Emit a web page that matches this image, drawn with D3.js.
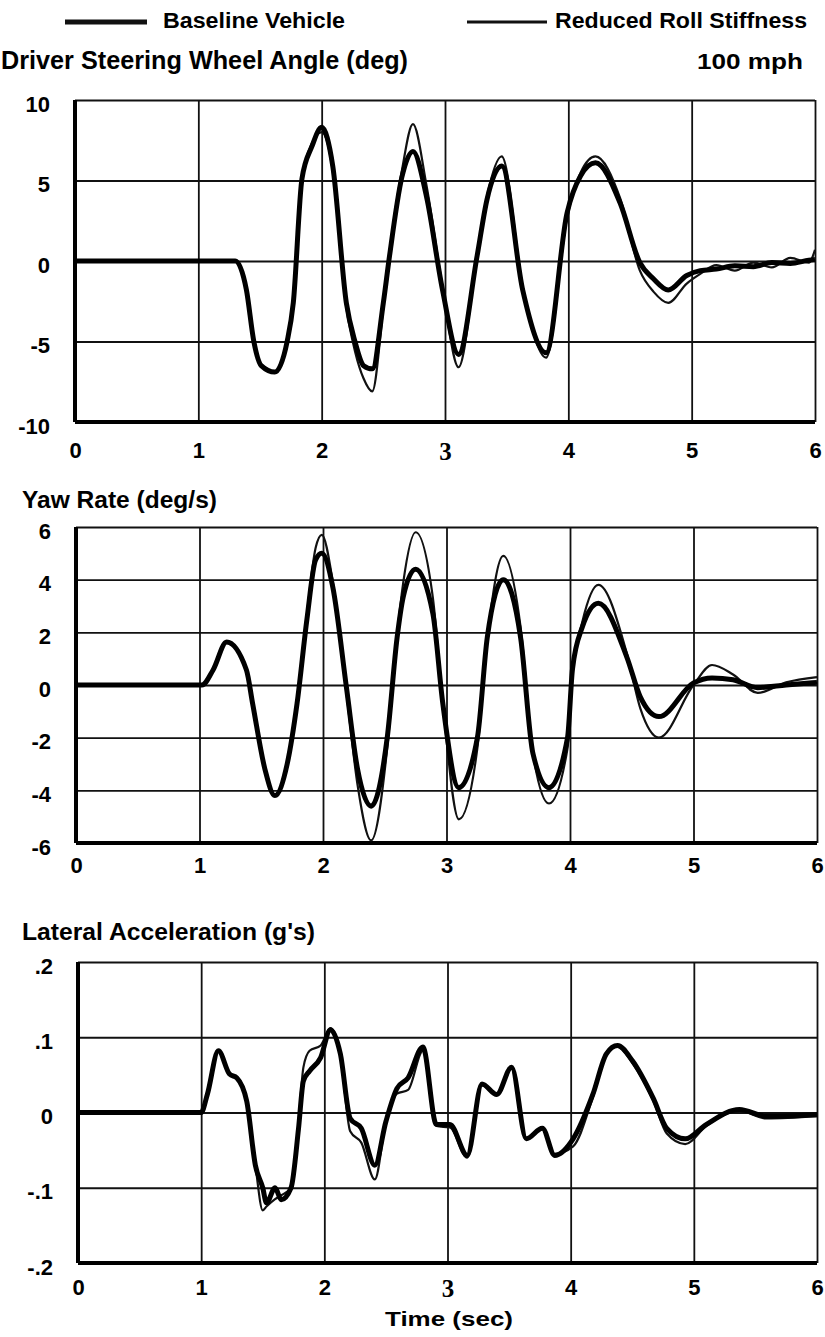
<!DOCTYPE html>
<html>
<head>
<meta charset="utf-8">
<script src="https://cdn.jsdelivr.net/npm/d3@7"></script>
<style>
  body { margin: 0; background: #fff; }
  svg { font-family: "Liberation Sans", Arial, sans-serif; font-weight: bold; }
</style>
</head>
<body>
<div id="chart-area"></div>
<script>
// time ticks shared by all three panels
const timeTicks = [0, 1, 2, 3, 4, 5, 6];

// Driver steering wheel angle (deg)
const steerTicks = [-10, -5, 0, 5, 10];
const steerTickLabels = ["-10", "-5", "0", "5", "10"];
const steerTime = [0, 1.2, 1.3, 1.39, 1.45, 1.51, 1.62, 1.72, 1.77, 1.84, 1.92, 2.0, 2.09, 2.2, 2.27, 2.34,
  2.41, 2.5, 2.55, 2.65, 2.74, 2.85, 2.98, 3.11, 3.26, 3.34, 3.46, 3.63, 3.82, 3.99, 4.1,
  4.22, 4.42, 4.58, 4.69, 4.81, 4.96, 5.07, 5.2, 5.35, 5.5, 5.65, 5.8, 5.95, 6.0];
const steerBaseline = [0, 0, 0, -1.8, -5, -6.5, -6.9, -5, -2.6, 5.1, 7.1, 8.3, 5.9, -2.6, -5, -6.5,
  -6.7, -2.6, 0.3, 5.2, 6.8, 4.0, -1.8, -5.8, 0.3, 3.8, 5.9, -1.8, -5.7, 3.0, 5.3,
  6.1, 3.6, -0.1, -1.1, -1.8, -0.9, -0.6, -0.5, -0.3, -0.35, -0.1, -0.15, 0.05, 0.1];
const steerReduced = [0, 0, 0, -1.8, -5, -6.5, -6.9, -5, -2.6, 4.9, 7.3, 8.0, 5.6, -2.9, -5.6, -7.3,
  -8.1, -2.9, 0.5, 5.6, 8.5, 4.7, -1.6, -6.6, 0.4, 4.0, 6.5, -1.6, -6.0, 2.7, 5.5,
  6.5, 3.9, -0.6, -1.9, -2.6, -1.4, -0.8, -0.25, -0.6, -0.1, -0.4, 0.2, -0.1, 0.7];

// Yaw rate (deg/s)
const yawTicks = [-6, -4, -2, 0, 2, 4, 6];
const yawTickLabels = ["-6", "-4", "-2", "0", "2", "4", "6"];
const yawTime = [0, 1.02, 1.11, 1.22, 1.38, 1.43, 1.53, 1.61, 1.71, 1.79, 1.87, 1.94, 1.99, 2.08, 2.19,
  2.28, 2.39, 2.52, 2.6, 2.65, 2.75, 2.89, 2.97, 3.1, 3.25, 3.33, 3.46, 3.6, 3.7, 3.83,
  3.98, 4.02, 4.1, 4.23, 4.46, 4.57, 4.72, 5.0, 5.15, 5.32, 5.52, 5.75, 6.0];
const yawBaseline = [0, 0, 0.57, 1.63, 0.57, -0.7, -3.2, -4.2, -3.0, -0.7, 2.5, 4.75, 5.0, 3.7, -0.1,
  -3.2, -4.6, -2.0, 1.8, 3.35, 4.4, 2.7, -0.7, -3.9, -2.0, 1.8, 4.0, 1.8, -2.6, -3.9,
  -2.0, 0.6, 2.2, 3.1, 1.06, -0.46, -1.2, 0.08, 0.27, 0.2, -0.1, 0.0, 0.1];
const yawReduced = [0, 0, 0.57, 1.63, 0.57, -0.7, -3.2, -4.2, -3.0, -0.7, 2.7, 5.2, 5.7, 3.9, -0.3,
  -3.8, -5.9, -2.4, 1.9, 3.9, 5.8, 3.3, -0.7, -5.1, -2.4, 1.7, 4.9, 2.2, -2.6, -4.5,
  -2.4, 0.4, 2.4, 3.8, 1.2, -0.9, -2.0, 0.0, 0.76, 0.4, -0.3, 0.1, 0.3];

// Lateral acceleration (g's)
const latTicks = [-0.2, -0.1, 0, 0.1, 0.2];
const latTickLabels = ["-.2", "-.1", "0", ".1", ".2"];
const latTime = [0, 1.0, 1.05, 1.14, 1.23, 1.29, 1.37, 1.44, 1.5, 1.53, 1.6, 1.65, 1.73, 1.79, 1.83,
  1.88, 1.97, 2.05, 2.13, 2.21, 2.3, 2.41, 2.5, 2.59, 2.68, 2.8, 2.91, 3.02, 3.16, 3.28,
  3.4, 3.52, 3.64, 3.77, 3.87, 4.02, 4.18, 4.29, 4.38, 4.5, 4.67, 4.78, 4.93, 5.1, 5.37, 5.59, 6.0];
const latBaseline = [0, 0, 0.024, 0.082, 0.051, 0.046, 0.015, -0.07, -0.10, -0.12, -0.10, -0.116, -0.10, -0.022, 0.042,
  0.055, 0.073, 0.11, 0.078, -0.008, -0.021, -0.07, -0.012, 0.032, 0.046, 0.087, -0.016, -0.016, -0.057, 0.038,
  0.024, 0.06, -0.035, -0.021, -0.057, -0.035, 0.024, 0.078, 0.089, 0.069, 0.019, -0.021, -0.035, -0.016, 0.004, -0.005, -0.003];
const latReduced = [0, 0, 0.024, 0.082, 0.051, 0.046, 0.015, -0.07, -0.13, -0.125, -0.115, -0.11, -0.10, -0.015, 0.06,
  0.082, 0.089, 0.112, 0.078, -0.025, -0.04, -0.089, -0.012, 0.025, 0.03, 0.082, -0.018, -0.02, -0.06, 0.036,
  0.024, 0.058, -0.035, -0.022, -0.055, -0.045, 0.02, 0.078, 0.088, 0.066, 0.016, -0.028, -0.042, -0.018, 0.002, -0.008, -0.005];

const svg = d3.select("#chart-area").append("svg")
    .attr("width", 825)
    .attr("height", 1337)

// legend
const legend = [
  {label: "Baseline Vehicle", x1: 65, x2: 147, tx: 163, tw: 182, sw: 5},
  {label: "Reduced Roll Stiffness", x1: 467, x2: 547, tx: 555, tw: 252, sw: 3}
]
legend.forEach(l => {
  svg.append("line")
      .attr("x1", l.x1).attr("x2", l.x2)
      .attr("y1", 22).attr("y2", 22)
      .attr("stroke", "#111").attr("stroke-width", l.sw)
  svg.append("text")
      .attr("x", l.tx).attr("y", 28)
      .attr("font-size", 22)
      .attr("textLength", l.tw).attr("lengthAdjust", "spacingAndGlyphs")
      .text(l.label)
})

svg.append("text")
    .attr("x", 803).attr("y", 69)
    .attr("text-anchor", "end")
    .attr("font-size", 22)
    .attr("textLength", 106).attr("lengthAdjust", "spacingAndGlyphs")
    .text("100 mph")

const panels = [
  {title: "Driver Steering Wheel Angle (deg)", tx: 1, ty: 69, tw: 407, tfs: 25,
   time: steerTime, base: steerBaseline, reduced: steerReduced, ticks: steerTicks, labels: steerTickLabels,
   domain: [-10, 10], left: 75, right: 815, top: 100, bottom: 422, xPad: 20},
  {title: "Yaw Rate (deg/s)", tx: 22, ty: 508, tw: 195, tfs: 23,
   time: yawTime, base: yawBaseline, reduced: yawReduced, ticks: yawTicks, labels: yawTickLabels,
   domain: [-6, 6], left: 76, right: 817, top: 527, bottom: 843, xPad: 14},
  {title: "Lateral Acceleration (g's)", tx: 22, ty: 940, tw: 293, tfs: 23,
   time: latTime, base: latBaseline, reduced: latReduced, ticks: latTicks, labels: latTickLabels,
   domain: [-0.2, 0.2], left: 78, right: 817, top: 962, bottom: 1263, xPad: 16}
]

panels.forEach((p, pi) => {
  const x = d3.scaleLinear().domain([0, 6]).range([p.left, p.right])
  const y = d3.scaleLinear().domain(p.domain).range([p.bottom, p.top])

  svg.append("text")
      .attr("x", p.tx).attr("y", p.ty)
      .attr("font-size", p.tfs)
      .attr("textLength", p.tw).attr("lengthAdjust", "spacingAndGlyphs")
      .text(p.title)

  // grid lines
  const gy = svg.append("g")
      .attr("transform", `translate(${p.left},0)`)
      .call(d3.axisLeft(y).tickValues(p.ticks).tickSize(-(p.right - p.left)).tickFormat(""))
  const gx = svg.append("g")
      .attr("transform", `translate(0,${p.bottom})`)
      .call(d3.axisBottom(x).tickValues(timeTicks).tickSize(-(p.bottom - p.top)).tickFormat(""))
  gy.select(".domain").remove()
  gx.select(".domain").remove()
  svg.selectAll(".tick line").attr("stroke", "#111").attr("stroke-width", 1.8)

  // tick labels
  const ly = svg.append("g")
      .attr("transform", `translate(${p.left},4)`)
      .call(d3.axisLeft(y).tickValues(p.ticks).tickSize(0).tickPadding(25).tickFormat((d, i) => p.labels[i]))
  const lx = svg.append("g")
      .attr("transform", `translate(0,${p.bottom})`)
      .call(d3.axisBottom(x).tickValues(timeTicks).tickSize(0).tickPadding(p.xPad).tickFormat(d3.format("d")))
  ;[ly, lx].forEach(g => {
    g.select(".domain").remove()
    g.attr("font-family", null).attr("font-size", 22)
    g.selectAll("text").attr("fill", "#000")
  })
  // the scanned "3" labels are set in a serif face
  if (pi !== 1) {
    lx.selectAll("text").filter(d => d === 3)
        .attr("font-family", "'Liberation Serif', serif").attr("font-size", 25)
  }

  // heavy axis lines
  svg.append("line")
      .attr("x1", p.left).attr("x2", p.left)
      .attr("y1", p.top).attr("y2", p.bottom)
      .attr("stroke", "#000").attr("stroke-width", 4)
  svg.append("line")
      .attr("x1", p.left).attr("x2", p.right)
      .attr("y1", p.bottom).attr("y2", p.bottom)
      .attr("stroke", "#000").attr("stroke-width", 4)

  const line = d3.line()
      .x(d => x(d[0]))
      .y(d => y(d[1]))
      .curve(d3.curveMonotoneX)

  svg.append("path")
      .datum(p.time.map((t, i) => [t, p.reduced[i]]))
      .attr("d", line)
      .attr("fill", "none")
      .attr("stroke", "#111")
      .attr("stroke-width", 2.2)
  svg.append("path")
      .datum(p.time.map((t, i) => [t, p.base[i]]))
      .attr("d", line)
      .attr("fill", "none")
      .attr("stroke", "#000")
      .attr("stroke-width", 5)
      .attr("stroke-linejoin", "round")
})

svg.append("text")
    .attr("x", 449).attr("y", 1326)
    .attr("text-anchor", "middle")
    .attr("font-size", 21)
    .attr("textLength", 128).attr("lengthAdjust", "spacingAndGlyphs")
    .text("Time (sec)")
</script>
</body>
</html>
